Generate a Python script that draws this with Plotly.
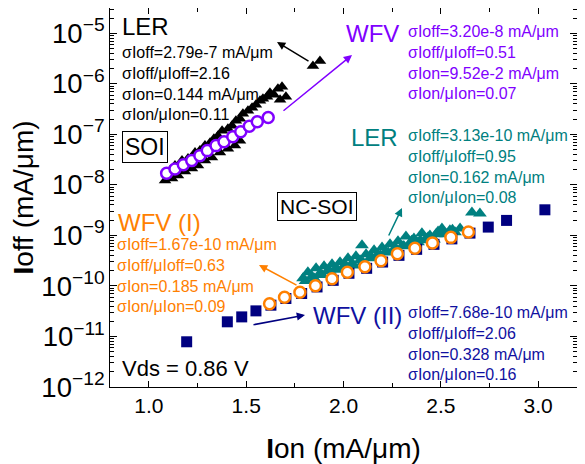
import plotly.graph_objects as go

# ---------------- data (Ion in mA/um, Ioff in mA/um) ----------------
soi_ler_ion = [1.108, 1.134, 1.170, 1.201, 1.237, 1.262, 1.288, 1.314, 1.334, 1.355,
               1.376, 1.406, 1.427, 1.447, 1.468, 1.483, 1.509, 1.530, 1.550, 1.571,
               1.586, 1.607, 1.622, 1.643, 1.663, 1.684, 1.704, 1.674,
               1.083, 1.119, 1.149, 1.185, 1.221, 1.252, 1.288, 1.324, 1.365, 1.406,
               1.442, 1.468, 1.843, 1.879]
soi_ler_ioff = [1.92e-8, 2.41e-8, 3.02e-8, 3.31e-8, 4.35e-8, 4.76e-8, 5.98e-8, 6.85e-8, 8.22e-8, 9.42e-8,
                1.18e-7, 1.29e-7, 1.48e-7, 1.86e-7, 2.04e-7, 2.56e-7, 2.93e-7, 3.36e-7, 3.85e-7, 4.62e-7,
                5.06e-7, 5.54e-7, 6.64e-7, 6.07e-7, 7.96e-7, 8.72e-7, 5.54e-7, 4.83e-7,
                1.22e-8, 1.33e-8, 1.53e-8, 1.83e-8, 2.10e-8, 2.41e-8, 3.02e-8, 3.47e-8, 4.35e-8, 5.21e-8,
                5.98e-8, 7.50e-8, 2.26e-6, 2.84e-6]

soi_wfv_ion = [1.091, 1.134, 1.177, 1.220, 1.262, 1.300, 1.345, 1.386, 1.431, 1.472, 1.516, 1.557, 1.613]
soi_wfv_ioff = [1.70e-8, 2.07e-8, 2.49e-8, 3.02e-8, 3.79e-8, 4.76e-8, 5.98e-8, 7.16e-8, 8.99e-8,
                1.13e-7, 1.44e-7, 1.78e-7, 2.16e-7]

nc_ler_ion = [1.792, 1.817, 1.838, 1.859, 1.879, 1.900, 1.920, 1.941, 1.961, 1.982, 2.002, 2.023,
              2.044, 2.064, 2.085, 2.095, 2.116, 2.136, 2.157, 2.177, 2.198, 2.218, 2.239, 2.259,
              2.280, 2.301, 2.321, 2.342, 2.362, 2.383, 2.403, 2.424, 2.444, 2.465, 2.486, 2.506,
              2.527, 2.547, 2.573, 2.599, 2.660, 2.701,
              1.805, 1.850, 1.890, 1.930, 1.970, 2.010, 2.050, 2.100, 2.145, 2.190, 2.230, 2.270,
              2.310, 2.350, 2.395, 2.435, 2.475, 2.515, 2.560]
nc_ler_ioff = [1.42e-10, 1.86e-10, 1.55e-10, 2.23e-10, 1.78e-10, 2.44e-10, 2.04e-10, 2.68e-10,
               2.23e-10, 2.93e-10, 2.44e-10, 3.52e-10, 2.80e-10, 3.85e-10, 3.21e-10, 6.35e-10,
               4.22e-10, 3.52e-10, 5.06e-10, 4.22e-10, 5.79e-10, 4.83e-10, 6.65e-10, 5.30e-10,
               7.62e-10, 6.07e-10, 9.55e-10, 6.95e-10, 8.73e-10, 7.28e-10, 1.10e-9, 8.73e-10,
               1.00e-9, 8.34e-10, 1.20e-9, 1.37e-9, 1.05e-9, 1.26e-9, 1.15e-9, 1.37e-9,
               2.84e-9, 2.72e-9,
               1.25e-10, 1.40e-10, 1.65e-10, 1.95e-10, 2.10e-10, 2.60e-10, 2.55e-10, 2.95e-10,
               3.70e-10, 4.00e-10, 4.60e-10, 5.50e-10, 6.20e-10, 7.80e-10, 8.00e-10, 9.20e-10,
               1.05e-9, 1.15e-9, 1.30e-9]

nc_wfv2_ion = [1.194, 1.403, 1.477, 1.550, 1.627, 1.704, 1.785, 1.864, 1.947, 2.028, 2.119,
               2.201, 2.285, 2.376, 2.465, 2.557, 2.650, 2.744, 2.838, 3.035]
nc_wfv2_ioff = [7.85e-12, 1.95e-11, 2.44e-11, 3.21e-11, 4.16e-11, 5.64e-11, 7.08e-11, 9.55e-11,
                1.29e-10, 1.78e-10, 2.23e-10, 2.97e-10, 4.03e-10, 5.30e-10, 6.65e-10, 8.53e-10,
                1.11e-9, 1.46e-9, 1.98e-9, 3.21e-9]

nc_wfv1_ion = [1.620, 1.697, 1.776, 1.856, 1.941, 2.020, 2.110, 2.193, 2.277, 2.367, 2.457, 2.552, 2.642]
nc_wfv1_ioff = [4.45e-11, 5.98e-11, 7.50e-11, 1.01e-10, 1.39e-10, 1.86e-10, 2.39e-10, 3.14e-10,
                4.32e-10, 5.55e-10, 7.11e-10, 9.14e-10, 1.17e-9]

x_ticks = [1.0, 1.5, 2.0, 2.5, 3.0]
x_tick_labels = ["1.0", "1.5", "2.0", "2.5", "3.0"]

FONT = "Arial, 'Liberation Sans', sans-serif"
PURPLE = "#8000ff"
TEAL = "#008080"
ORANGE = "#ff8000"
NAVY = "#000080"
NAVY_TXT = "#1010a0"

fig = go.Figure()
fig.add_trace(go.Scatter(x=soi_ler_ion, y=soi_ler_ioff, mode="markers",
                         marker=dict(symbol="triangle-up", size=11, color="black", line=dict(width=0))))
fig.add_trace(go.Scatter(x=soi_wfv_ion, y=soi_wfv_ioff, mode="markers",
                         marker=dict(symbol="circle", size=11, color="white", line=dict(width=2.5, color=PURPLE))))
fig.add_trace(go.Scatter(x=nc_ler_ion, y=nc_ler_ioff, mode="markers",
                         marker=dict(symbol="triangle-up", size=12, color=TEAL, line=dict(width=0))))
fig.add_trace(go.Scatter(x=nc_wfv2_ion, y=nc_wfv2_ioff, mode="markers",
                         marker=dict(symbol="square", size=11, color=NAVY, line=dict(width=0))))
fig.add_trace(go.Scatter(x=nc_wfv1_ion, y=nc_wfv1_ioff, mode="markers",
                         marker=dict(symbol="circle", size=11, color="white", line=dict(width=2.5, color=ORANGE))))

# The page body has an 8px default margin, so the figure is drawn 8px right/down.
OFF = 8
FIG_W, FIG_H = 585 - OFF, 464 - OFF
# plot area in page pixels (as in the reference)
L, R, T, B = 110, 577, 8, 387
W = R - L
H = B - T


def px(xp):
    return (xp - L) / W


def py(yp):
    return (B - yp) / H


ann = []


def text(xp, yp, s, color, size, xanchor="left", **kw):
    ann.append(dict(x=px(xp), y=py(yp), xref="paper", yref="paper", text=s, showarrow=False,
                    xanchor=xanchor, yanchor="middle", align="left",
                    font=dict(family=FONT, size=size, color=color), **kw))


def arrow(hx, hy, tx, ty, color):
    ann.append(dict(x=px(hx), y=py(hy), xref="paper", yref="paper", text="", showarrow=True,
                    ax=tx - hx, ay=ty - hy, arrowhead=2, arrowsize=1.1, arrowwidth=1.5,
                    arrowcolor=color, standoff=0, startstandoff=0))


def block(lines):
    return "<br>".join(lines)


text(120, 26, "LER", "black", 24)
text(120, 83.5, block(["σIoff=2.79e-7 mA/μm", "σIoff/μIoff=2.16",
                       "σIon=0.144 mA/μm", "σIon/μIon=0.11"]), "black", 16)
text(401, 33, "WFV", PURPLE, 24, xanchor="right")
text(406, 62, block(["σIoff=3.20e-8 mA/μm", "σIoff/μIoff=0.51",
                     "σIon=9.52e-2 mA/μm", "σIon/μIon=0.07"]), PURPLE, 16)
text(400, 138, "LER", TEAL, 24, xanchor="right")
text(406, 166.5, block(["σIoff=3.13e-10 mA/μm", "σIoff/μIoff=0.95",
                        "σIon=0.162 mA/μm", "σIon/μIon=0.08"]), TEAL, 16)
text(116, 222, "WFV (I)", ORANGE, 24)
text(115, 275.5, block(["σIoff=1.67e-10 mA/μm", "σIoff/μIoff=0.63",
                        "σIon=0.185 mA/μm", "σIon/μIon=0.09"]), ORANGE, 16)
text(311, 315, "WFV (II)", NAVY_TXT, 24)
text(406, 343, block(["σIoff=7.68e-10 mA/μm", "σIoff/μIoff=2.06",
                      "σIon=0.328 mA/μm", "σIon/μIon=0.16"]), NAVY_TXT, 16)
text(120, 368, "Vds = 0.86 V", "black", 22)
text(145, 147, "SOI", "black", 23, xanchor="center", bordercolor="black", borderwidth=1,
     borderpad=2, bgcolor="white")
text(317, 206, "NC-SOI", "black", 21, xanchor="center", bordercolor="black", borderwidth=1,
     borderpad=2, bgcolor="white")

arrow(277, 42, 310, 62, "black")
arrow(352, 55, 282, 112, PURPLE)
arrow(402, 208, 388, 237, TEAL)
arrow(259, 265, 298, 286, ORANGE)
arrow(305, 315, 252, 325, NAVY)

fig.update_layout(
    width=FIG_W, height=FIG_H,
    margin=dict(l=L - OFF, r=FIG_W - (R - OFF), t=T - OFF, b=FIG_H - (B - OFF), autoexpand=False),
    paper_bgcolor="white", plot_bgcolor="white",
    showlegend=False,
    font=dict(family=FONT, color="black"),
    annotations=ann,
)
fig.update_xaxes(range=[0.8, 3.2], tickvals=x_ticks, ticktext=x_tick_labels,
                 ticks="inside", ticklen=6, tickwidth=1, tickcolor="black",
                 minor=dict(ticks="inside", ticklen=4, dtick=0.25, tick0=0, tickcolor="black", showgrid=False),
                 showline=True, linecolor="black", linewidth=1, mirror="ticks", automargin=False,
                 showgrid=False, zeroline=False, tickfont=dict(size=21),
                 title=dict(text="<b>I</b>on (mA/μm)", font=dict(size=28), standoff=22))
fig.update_yaxes(type="log", range=[-12, -4.5], dtick=1, exponentformat="power",
                 ticks="inside", ticklen=7, tickwidth=1, tickcolor="black",
                 minor=dict(ticks="inside", ticklen=4, dtick="D1", tickcolor="black", showgrid=False),
                 showline=True, linecolor="black", linewidth=1, mirror="ticks", automargin=False,
                 showgrid=False, zeroline=False, tickfont=dict(size=22),
                 title=dict(text="<b>I</b>off (mA/μm)", font=dict(size=28), standoff=0))

fig.write_html("out.html")
